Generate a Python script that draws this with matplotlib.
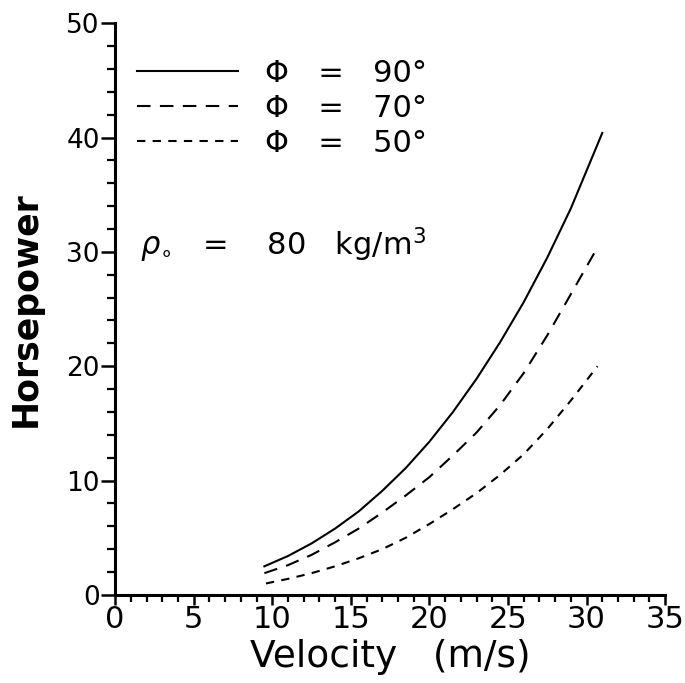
import matplotlib
matplotlib.use("Agg")
import matplotlib.pyplot as plt
from matplotlib.lines import Line2D
from matplotlib.ticker import MultipleLocator

# Velocity (m/s) and horsepower for three blade angles
velocity_90 = [9.5, 11, 12.5, 14, 15.5, 17, 18.5, 20, 21.5, 23, 24.5, 26, 27.5, 29, 31.0]
hp_90 = [2.5, 3.4, 4.5, 5.8, 7.3, 9.1, 11.1, 13.4, 16.0, 18.9, 22.1, 25.6, 29.5, 33.8, 40.4]

velocity_70 = [9.5, 11, 12.5, 14, 15.5, 17, 18.5, 20, 21.5, 23, 24.5, 26, 27.5, 29, 30.7]
hp_70 = [1.9, 2.6, 3.5, 4.6, 5.8, 7.2, 8.7, 10.3, 12.2, 14.2, 16.6, 19.4, 22.7, 26.3, 30.4]

velocity_50 = [9.6, 11, 12.5, 14, 15.5, 17, 18.5, 20, 21.5, 23, 24.5, 26, 27.5, 29, 30.7]
hp_50 = [1.0, 1.4, 1.9, 2.5, 3.2, 4.0, 5.0, 6.2, 7.5, 8.9, 10.5, 12.3, 14.5, 17.0, 20.0]

angle_labels = ["90°", "70°", "50°"]

fig = plt.figure(figsize=(6.85, 6.83), dpi=100)
ax = fig.add_axes([0.168, 0.129, 0.803, 0.837])

lw = 1.5
styles = [dict(linestyle="-"),
          dict(linestyle=(0, (6.5, 4.5))),
          dict(linestyle=(0, (4, 3.5)))]
series = [(velocity_90, hp_90), (velocity_70, hp_70), (velocity_50, hp_50)]
for (vx, hy), st in zip(series, styles):
    ax.plot(vx, hy, color="black", lw=lw, **st)

ax.set_xlim(0, 35)
ax.set_ylim(0, 50)

for side in ("top", "right"):
    ax.spines[side].set_visible(False)
for side in ("left", "bottom"):
    ax.spines[side].set_linewidth(2.2)

ax.xaxis.set_major_locator(MultipleLocator(5))
ax.xaxis.set_minor_locator(MultipleLocator(1))
ax.yaxis.set_major_locator(MultipleLocator(10))
ax.yaxis.set_minor_locator(MultipleLocator(2))

ax.tick_params(axis="x", which="major", direction="out", length=7, width=1.8,
               labelsize=22, pad=0)
ax.tick_params(axis="x", which="minor", direction="out", length=5, width=1.6)
ax.tick_params(axis="y", which="major", direction="out", length=10, width=1.8,
               labelsize=19, pad=1)
ax.tick_params(axis="y", which="minor", direction="out", length=6, width=1.6)

ax.set_xlabel("Velocity   (m/s)", fontsize=27, labelpad=4)
ax.set_ylabel("Horsepower", fontsize=25, fontweight="bold", labelpad=17)

handles = [Line2D([], [], color="black", lw=lw, **st) for st in styles]
labels = ["Φ   =   " + a for a in angle_labels]
leg = ax.legend(handles, labels, loc="upper left", bbox_to_anchor=(0.04, 0.938),
                frameon=False, fontsize=22, handlelength=3.3, handletextpad=0.9,
                labelspacing=0.2, borderaxespad=0, borderpad=0)

ax.text(0.045, 0.612, r"$\rho_{\circ}$   =    80   kg/m$^3$", transform=ax.transAxes,
        fontsize=22, va="center", ha="left")

fig.savefig("out.png", dpi=100)
